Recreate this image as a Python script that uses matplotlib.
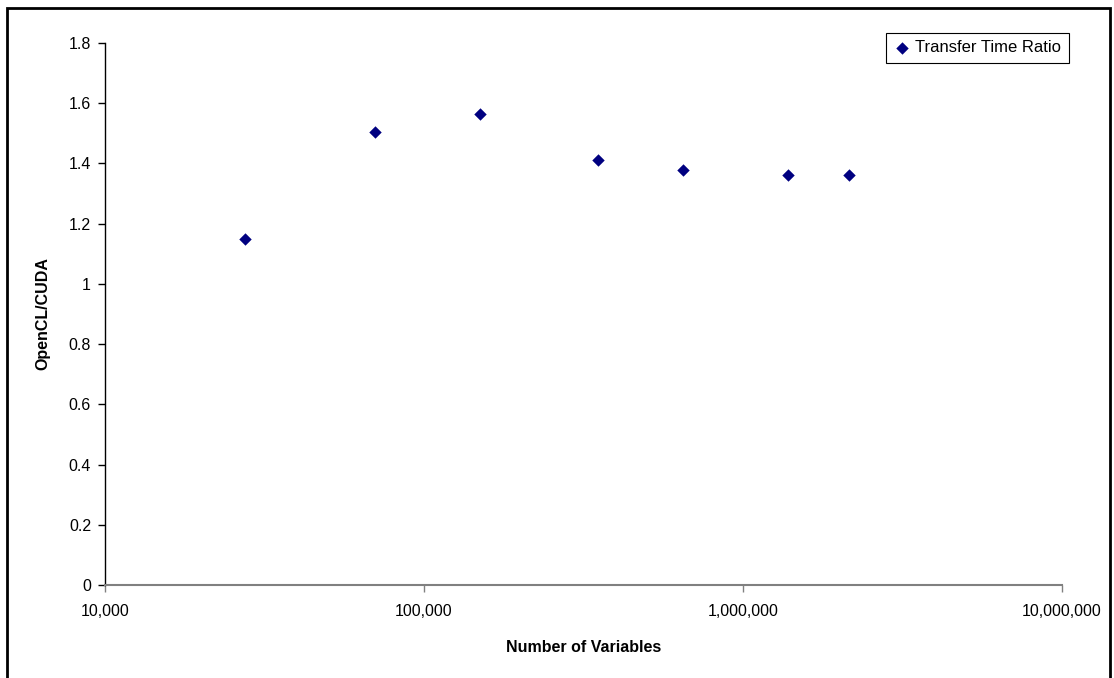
import matplotlib.pyplot as plt
from matplotlib.ticker import FuncFormatter, FixedLocator, NullLocator
from matplotlib.patches import Rectangle

plt.rcParams['font.family'] = ['Liberation Sans', 'DejaVu Sans']

# data
num_vars = [27500, 70000, 150000, 350000, 650000, 1380000, 2150000]
ratio = [1.148, 1.504, 1.565, 1.411, 1.378, 1.360, 1.360]
x_ticks = [10000, 100000, 1000000, 10000000]
y_ticks = [0, 0.2, 0.4, 0.6, 0.8, 1.0, 1.2, 1.4, 1.6, 1.8]

fig = plt.figure(figsize=(11.14, 6.78), dpi=100)
ax = fig.add_axes([105 / 1114, 1 - 585 / 678, (1062 - 105) / 1114, (585 - 43) / 678])

ax.scatter(num_vars, ratio, marker='D', s=40, color='#000080', linewidths=0,
           label='Transfer Time Ratio', zorder=3)

ax.set_xscale('log')
ax.set_xlim(10000, 10000000)
ax.set_ylim(0, 1.8)
ax.xaxis.set_major_locator(FixedLocator(x_ticks))
ax.xaxis.set_minor_locator(NullLocator())
ax.xaxis.set_major_formatter(FuncFormatter(lambda v, p: f'{int(round(v)):,}'))
ax.yaxis.set_major_locator(FixedLocator(y_ticks))
ax.yaxis.set_major_formatter(FuncFormatter(lambda v, p: f'{v:g}'))

for s in ['top', 'right']:
    ax.spines[s].set_visible(False)
ax.spines['left'].set_color('black')
ax.spines['left'].set_linewidth(1)
ax.spines['bottom'].set_color('#808080')
ax.spines['bottom'].set_linewidth(1.5)

ax.tick_params(axis='y', direction='out', length=5, width=1, pad=5,
               labelsize=11.5, colors='black')
ax.tick_params(axis='x', direction='out', length=5, width=1, pad=9,
               labelsize=11.5, color='#808080', labelcolor='black')

ax.set_xlabel('Number of Variables', fontsize=11.5, fontweight='bold', labelpad=15)
ax.set_ylabel('OpenCL/CUDA', fontsize=11.5, fontweight='bold', labelpad=13)

leg = ax.legend(loc='upper right', bbox_to_anchor=(1069 / 1114, 1 - 33 / 678),
                bbox_transform=fig.transFigure, borderaxespad=0, fancybox=False,
                framealpha=1, edgecolor='black', fontsize=12, handletextpad=0.3,
                handlelength=1.0, borderpad=0.45, scatterpoints=1)
leg.get_frame().set_linewidth(0.8)

# outer chart border
fig.patches.append(Rectangle((7 / 1114, -0.02), (1110 - 7) / 1114, 1 - 8 / 678 + 0.02,
                             transform=fig.transFigure, fill=False,
                             edgecolor='black', linewidth=2))

fig.savefig('out.png', dpi=100)
